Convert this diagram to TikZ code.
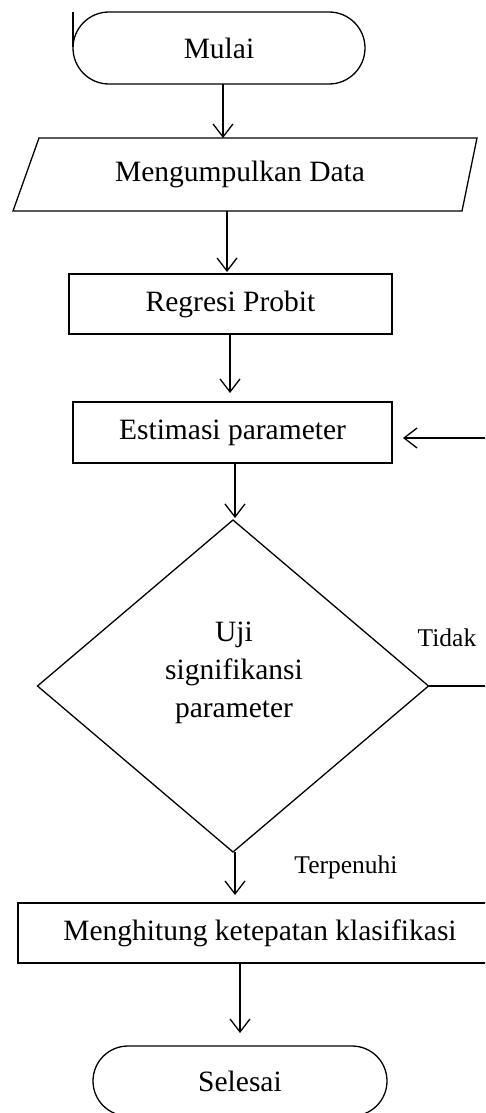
\documentclass[tikz,border=0pt]{standalone}
\usepackage{fontspec}
\setmainfont{Liberation Serif}
\usetikzlibrary{arrows.meta,shapes.geometric,shapes.misc}
\begin{document}
\begin{tikzpicture}[x=1pt,y=-1pt,line width=1.3pt,
  arr/.style={-{Straight Barb[length=13pt,width=20pt]}},
  mainfont/.style={font=\fontsize{29.5}{38}\selectfont},
  box/.style={draw, rectangle, inner sep=0pt, outer sep=0pt, mainfont},
  term/.style={draw, rounded rectangle, inner sep=0pt, outer sep=0pt, mainfont},
  lbl/.style={inner sep=0pt, font=\fontsize{25.5}{30}\selectfont}]
\path[use as bounding box] (0,0) rectangle (485,1113);
\clip (0,0) rectangle (485,1113);

% terminal: Mulai
\node[term, minimum width=292pt, minimum height=72pt] (mulai) at (219,48) {\raisebox{-5pt}{Mulai}};
\draw (73,12) -- (73,47);

% input: Mengumpulkan Data
\draw (39,138) -- (477,138) -- (462,211) -- (13,211) -- cycle;
\node[inner sep=0pt, outer sep=0pt, minimum height=73pt, mainfont] (data) at (240,174.5) {\raisebox{-4pt}{Mengumpulkan Data}};

% processes
\node[box, minimum width=323pt, minimum height=60pt] (regresi) at (230.5,304) {Regresi Probit};
\node[box, minimum width=319pt, minimum height=61pt] (estimasi) at (232.5,432.5) {Estimasi parameter};

% decision
\node[draw, diamond, inner sep=0pt, outer sep=0pt, minimum width=391pt, minimum height=332pt] (dec) at (233,686) {};
\node[mainfont, align=center, inner sep=0pt] (dectext) at (234,673) {Uji\\signifikansi\\parameter};
\node[lbl] (tidak) at (447,638) {Tidak};
\node[lbl] (terpenuhi) at (346,867) {Terpenuhi};

\node[box, minimum width=484pt, minimum height=60pt] (hitung) at (260,933) {Menghitung ketepatan klasifikasi};

% terminal: Selesai
\node[term, minimum width=294pt, minimum height=70pt] (selesai) at (240,1081) {Selesai};

% connectors
\draw[arr] ([xshift=4pt]mulai.south) -- ([xshift=4pt]mulai.south |- data.north);
\draw[arr, shorten >=2pt] ([xshift=-13pt]data.south) -- ([xshift=-13pt]data.south |- regresi.north);
\draw[arr, shorten >=9pt] ([xshift=-0.5pt]regresi.south) -- ([xshift=-0.5pt]regresi.south |- estimasi.north);
\draw[arr, shorten >=2pt] ([xshift=2.5pt]estimasi.south) -- ([xshift=2.5pt]estimasi.south |- dec.north);
\draw[arr, shorten >=8pt] ([xshift=2pt]dec.south) -- ([xshift=2pt]dec.south |- hitung.north);
\draw[arr, shorten >=13pt] (hitung.south -| selesai.north) -- (selesai.north);

\coordinate (loopc) at (495,438);
\draw[arr, shorten >=11pt] (dec.east) -- (dec.east -| loopc) -- (loopc) -- (loopc -| estimasi.east);
\end{tikzpicture}
\end{document}
